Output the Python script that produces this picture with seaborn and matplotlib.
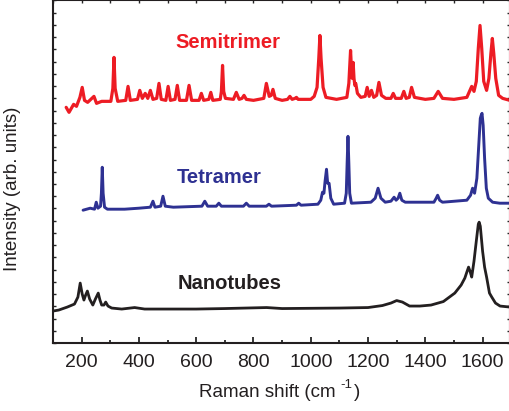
import numpy as np
import pandas as pd
import matplotlib
matplotlib.use("Agg")
import matplotlib.pyplot as plt
import seaborn as sns
from matplotlib.ticker import MultipleLocator

# Raman spectra (wavenumber, intensity arb. units, stacked)
semitrimer = [(146, 236), (156, 231), (172, 239), (182, 237), (194, 246), (202, 256), (210, 243), (221, 241),
              (232, 244), (243, 247), (252, 240), (270, 242), (302, 242), (309, 255), (313, 286), (317, 255),
              (326, 242), (354, 243), (362, 257), (370, 243), (395, 244), (403, 253), (412, 245), (422, 250),
              (431, 245), (440, 253), (449, 244), (462, 245), (470, 260), (478, 244), (494, 243), (502, 257),
              (510, 243), (526, 244), (534, 258), (542, 243), (566, 243), (575, 258), (584, 243), (610, 243),
              (618, 250), (626, 243), (644, 244), (651, 251), (658, 243), (684, 244), (688, 252), (692, 278),
              (696, 252), (702, 245), (730, 244), (740, 251), (750, 244), (760, 245), (767, 248), (775, 244),
              (800, 243), (836, 245), (845, 260), (855, 247), (862, 248), (868, 254), (876, 245), (900, 243),
              (919, 244), (927, 247), (935, 244), (945, 245), (950, 246), (956, 244), (1000, 244), (1012, 247),
              (1022, 256), (1028, 285), (1032, 308), (1036, 285), (1043, 256), (1053, 246), (1090, 244),
              (1126, 246), (1133, 260), (1139, 293), (1142, 275), (1145, 265), (1148, 281), (1151, 265),
              (1154, 258), (1157, 260), (1163, 250), (1175, 246), (1190, 247), (1197, 256), (1204, 247),
              (1212, 253), (1220, 246), (1230, 248), (1238, 261), (1247, 248), (1262, 245), (1280, 245),
              (1288, 250), (1296, 245), (1316, 245), (1325, 252), (1333, 245), (1344, 246), (1352, 256),
              (1362, 246), (1400, 244), (1430, 245), (1445, 252), (1460, 245), (1500, 244), (1545, 246),
              (1556, 253), (1562, 257), (1570, 252), (1578, 262), (1585, 295), (1591, 318), (1597, 295),
              (1604, 262), (1614, 253), (1622, 265), (1629, 290), (1634, 305), (1639, 290), (1646, 265),
              (1656, 248), (1670, 245), (1695, 243)]

tetramer = [(205, 133), (230, 135), (245, 134), (251, 141), (257, 135), (266, 137), (269, 150), (272, 176),
            (275, 150), (280, 136), (290, 134), (350, 134), (400, 135), (440, 136), (449, 142), (456, 136),
            (476, 137), (484, 147), (492, 137), (520, 136), (620, 137), (630, 142), (640, 137), (670, 137),
            (679, 140), (688, 137), (765, 137), (775, 140), (785, 137), (845, 137), (854, 139), (863, 137),
            (950, 138), (958, 140), (966, 138), (1025, 139), (1035, 143), (1041, 151), (1046, 150), (1050, 162),
            (1055, 174), (1059, 160), (1064, 160), (1070, 145), (1080, 139), (1118, 140), (1124, 150),
            (1127, 180), (1130, 207), (1133, 180), (1136, 150), (1142, 140), (1210, 141), (1225, 145),
            (1235, 155), (1245, 145), (1260, 141), (1280, 142), (1291, 146), (1298, 143), (1305, 145),
            (1311, 150), (1318, 143), (1330, 141), (1430, 141), (1438, 145), (1443, 148), (1450, 143),
            (1460, 141), (1545, 143), (1558, 148), (1565, 155), (1572, 150), (1580, 165), (1587, 200),
            (1592, 225), (1595, 228), (1598, 230), (1602, 218), (1607, 185), (1613, 155), (1620, 145),
            (1635, 141), (1660, 140), (1695, 140)]

nanotubes = [(100, 32), (120, 33), (150, 36), (175, 39), (187, 46), (195, 60), (202, 49), (208, 43), (214, 48),
             (220, 52), (228, 44), (239, 38), (248, 44), (258, 50), (264, 43), (270, 38), (278, 38), (284, 41),
             (292, 37), (305, 35), (340, 34), (385, 35.5), (420, 34), (600, 34), (700, 34.5), (846, 35.5),
             (900, 34.5), (1100, 35), (1200, 35.5), (1250, 37.5), (1280, 40), (1300, 42.5), (1320, 41),
             (1345, 37), (1381, 37), (1420, 38), (1463, 41.5), (1503, 50), (1525, 58), (1538, 65), (1545, 71),
             (1551, 76), (1556, 72), (1562, 66), (1570, 82), (1578, 102), (1585, 119), (1588, 121), (1592, 117),
             (1600, 92), (1607, 76), (1614, 66), (1624, 50), (1632, 46), (1645, 40), (1661, 37), (1695, 36)]

names = ["Semitrimer", "Tetramer", "Nanotubes"]
colors = ["#ED1C24", "#2E3192", "#231F20"]
widths = [2.3, 2.1, 2.0]
label_pos = [(709, 301), (682, 166), (717, 60)]

sns.set_style("ticks")
plt.rcParams["font.family"] = ["Liberation Sans", "DejaVu Sans"]

fig = plt.figure(figsize=(5.1, 4.11), dpi=100)
ax = fig.add_axes([53 / 510, 68 / 411, 456.8 / 510, 342.5 / 411])

for spec, c, w in zip([semitrimer, tetramer, nanotubes], colors, widths):
    df = pd.DataFrame(spec, columns=["shift", "intensity"])
    sns.lineplot(data=df, x="shift", y="intensity", color=c, lw=w,
                 estimator=None, sort=False, ax=ax)

for name, c, (tx, ty) in zip(names, colors, label_pos):
    ax.text(tx, ty, name, color=c, fontsize=14.5, fontweight="bold", ha="center", va="center")

ax.set_xlim(100, 1695)
ax.set_ylim(0, 343)
ax.xaxis.set_major_locator(MultipleLocator(200))
ax.xaxis.set_minor_locator(MultipleLocator(100))
ax.yaxis.set_major_locator(MultipleLocator(12.25))

ax.tick_params(axis="x", which="major", direction="in", length=4.5, width=1.3, pad=8,
               labelsize=14, labelcolor="#231F20", top=False)
ax.tick_params(axis="x", which="minor", direction="in", length=2.2, width=1.3, top=False)
ax.tick_params(axis="y", which="major", direction="in", length=2.2, width=1.0,
               left=True, right=True, labelleft=False)

top = ax.secondary_xaxis("top")
top.xaxis.set_major_locator(MultipleLocator(100))
top.tick_params(direction="in", length=2.2, width=1.0, labeltop=False)

for s in ax.spines.values():
    s.set_linewidth(1.5)
    s.set_color("#231F20")
for s in top.spines.values():
    s.set_visible(False)

ax.set_xlabel("Raman shift (cm", fontsize=13.5, color="#231F20", labelpad=9)
# superscript "-1" and closing bracket placed after the label text
xl = ax.xaxis.label
xl.set_x(0.47)
fig.canvas.draw()
inv = fig.transFigure.inverted()
bb = xl.get_window_extent()
x1, y0 = inv.transform((bb.x1, bb.y0))
_, y1 = inv.transform((bb.x1, bb.y1))
fig.text(x1 + 0.008, y0 + (y1 - y0) * 0.55, "-1", fontsize=9.5, color="#231F20", ha="left", va="bottom")
fig.text(x1 + 0.036, y0, ")", fontsize=13.5, color="#231F20", ha="left", va="bottom")

ax.set_ylabel("Intensity (arb. units)", fontsize=13.5, color="#231F20", labelpad=10)
ax.yaxis.set_label_coords(-0.07, 0.45)

fig.savefig("out.png", dpi=100)
